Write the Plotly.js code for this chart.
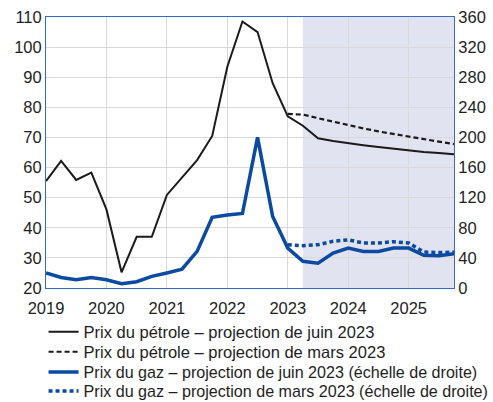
<!DOCTYPE html>
<html>
<head>
<meta charset="utf-8">
<script src="https://cdn.plot.ly/plotly-3.0.1.min.js"></script>
<style>
  html, body { margin: 0; padding: 0; background: #ffffff; }
  #chart { width: 493px; height: 402px; }
</style>
</head>
<body>
<div id="chart"></div>
<script>
// Quarterly positions (T1 of each year at the year mark)
const quarters = [
  2019.00, 2019.25, 2019.50, 2019.75,
  2020.00, 2020.25, 2020.50, 2020.75,
  2021.00, 2021.25, 2021.50, 2021.75,
  2022.00, 2022.25, 2022.50, 2022.75,
  2023.00, 2023.25, 2023.50, 2023.75,
  2024.00, 2024.25, 2024.50, 2024.75,
  2025.00, 2025.25, 2025.50, 2025.75
];
const projQuarters = [
  2023.00, 2023.25, 2023.50, 2023.75,
  2024.00, 2024.25, 2024.50, 2024.75,
  2025.00, 2025.25, 2025.50, 2025.75
];

// Oil price (left axis) – June 2023 projection
const oilJune = [
  55.5, 62.2, 55.9, 58.3,
  46.1, 25.2, 37.0, 37.0,
  50.9, 56.7, 62.5, 70.5,
  93.5, 108.5, 105.0, 88.0,
  77.0, 73.9, 69.7, 68.8,
  68.0, 67.4, 66.8, 66.2,
  65.7, 65.2, 64.8, 64.4
];
// Oil price – March 2023 projection
const oilMarch = [
  77.8, 77.6, 76.4, 75.2,
  74.0, 73.0, 72.0, 71.1,
  70.3, 69.4, 68.6, 67.8
];
// Gas price (right axis) – June 2023 projection
const gasJune = [
  20, 14, 11, 14,
  11, 5.7, 8.4, 15.4,
  20, 25, 48.6, 94,
  97, 99, 200, 95,
  53, 35.4, 33, 46.5,
  53, 48.6, 48.6, 53,
  53, 43.4, 43, 45.6
];
// Gas price – March 2023 projection
const gasMarch = [
  57.5, 56.2, 57.5, 62,
  64, 59.8, 59.8, 61.5,
  59.8, 47.8, 47, 47.5
];

const seriesNames = [
  "Prix du pétrole – projection de juin 2023",
  "Prix du pétrole – projection de mars 2023",
  "Prix du gaz – projection de juin 2023 (échelle de droite)",
  "Prix du gaz – projection de mars 2023 (échelle de droite)"
];
const yearTicks = [2019, 2020, 2021, 2022, 2023, 2024, 2025];
const leftTicks = [20, 30, 40, 50, 60, 70, 80, 90, 100, 110];
const rightTicks = [0, 40, 80, 120, 160, 200, 240, 280, 320, 360];
const projectionStart = 2023.25;
const projectionEnd = 2025.75;

const BLUE = "#0A4AA0";
const BLACK = "#1a1a1a";
const FRAME = "#3A66C4";
const TXT = "#1e1e1e";

const traces = [
  { x: quarters, y: oilJune, name: seriesNames[0], type: "scatter", mode: "lines",
    line: { color: BLACK, width: 2 }, yaxis: "y", legend: "legend" },
  { x: projQuarters, y: oilMarch, name: seriesNames[1], type: "scatter", mode: "lines",
    line: { color: BLACK, width: 2.2, dash: "5px,3px" }, yaxis: "y", legend: "legend2" },
  { x: quarters, y: gasJune, name: seriesNames[2], type: "scatter", mode: "lines",
    line: { color: BLUE, width: 3.5 }, yaxis: "y2", legend: "legend3" },
  { x: projQuarters, y: gasMarch, name: seriesNames[3], type: "scatter", mode: "lines",
    line: { color: BLUE, width: 3.5, dash: "4px,3px" }, yaxis: "y2", legend: "legend4" }
];

function legendAt(y, size) {
  return {
    orientation: "v", x: -0.006, xanchor: "left", y: y, yanchor: "middle",
    font: { size: size, color: TXT }, bgcolor: "rgba(0,0,0,0)",
    tracegroupgap: 0, itemwidth: 30
  };
}

const layout = {
  width: 493, height: 402,
  margin: { l: 46, r: 39, t: 17, b: 114, autoexpand: false },
  paper_bgcolor: "#ffffff",
  plot_bgcolor: "#ffffff",
  font: { family: "Liberation Sans, Arial, sans-serif", size: 16.5, color: TXT },
  showlegend: true,
  legend: legendAt(-0.1624, 16.5),
  legend2: legendAt(-0.2362, 16.5),
  legend3: legendAt(-0.31, 16.1),
  legend4: legendAt(-0.380, 16.1),
  xaxis: {
    range: [2019, 2025.75], tickmode: "array", tickvals: yearTicks,
    ticktext: yearTicks.map(String),
    showgrid: true, gridcolor: "#d9d9d9", gridwidth: 1,
    showline: true, linecolor: FRAME, linewidth: 1, mirror: true,
    zeroline: false, ticks: "", ticklabelstandoff: 5, tickfont: { size: 16.5, color: TXT }
  },
  yaxis: {
    range: [20, 110], tickmode: "array", tickvals: leftTicks,
    showgrid: true, gridcolor: "#d9d9d9", gridwidth: 1,
    showline: true, linecolor: FRAME, linewidth: 1, mirror: true,
    zeroline: false, ticks: "", tickfont: { size: 16.5, color: TXT }
  },
  yaxis2: {
    range: [0, 360], tickmode: "array", tickvals: rightTicks,
    overlaying: "y", side: "right", showgrid: false,
    showline: true, linecolor: FRAME, linewidth: 1,
    zeroline: false, ticks: "", tickfont: { size: 16.5, color: TXT }
  },
  shapes: [
    { type: "rect", xref: "x", yref: "paper", x0: projectionStart, x1: projectionEnd,
      y0: 0, y1: 1, fillcolor: "#E2E3F1", line: { width: 0 }, layer: "below" }
  ]
};

Plotly.newPlot("chart", traces, layout, { displayModeBar: false, staticPlot: true });
</script>
</body>
</html>
